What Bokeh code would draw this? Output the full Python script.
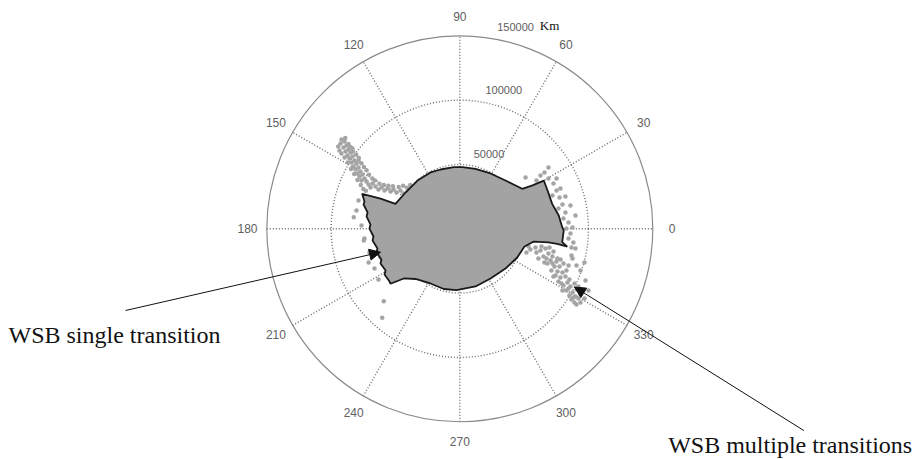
import numpy as np
from bokeh.plotting import figure
from bokeh.models import Range1d, Arrow, NormalHead
from bokeh.core.properties import value
from bokeh.embed import file_html
from bokeh.resources import INLINE

# ---------------- data (units: thousand km) ----------------
ring_radii = [50, 100]
outer_radius = 150
ring_labels = ["50000", "100000", "150000"]
spoke_angles = [0, 30, 60, 90, 120, 150]
angle_labels = ["0", "30", "60", "90", "120", "150", "180", "210", "240", "270", "300", "330"]
angle_label_deg = [0, 30, 60, 90, 120, 150, 180, 210, 240, 270, 300, 330]

# boundary of the filled region
region_x = [80.8, 79.6, 76.9, 71.8, 68.2, 65.3, 56.5, 48.5, 35.5, 23.9, 12.2, 2.1, -4.7, -15.0,
            -22.8, -32.9, -42.2, -50.0, -61.6, -75.9, -74.1, -74.8, -71.7, -72.5, -69.4, -70.2,
            -67.1, -67.8, -64.0, -64.7, -60.9, -61.6, -57.7, -58.5, -54.6, -53.9, -43.5, -34.4,
            -22.8, -12.4, -2.6, 12.2, 23.9, 35.5, 44.6, 50.3, 57.5, 68.9, 75.7, 83.5, 79.6]
region_y = [-1.3, 1.2, 10.3, 19.4, 29.8, 37.5, 33.7, 31.1, 37.5, 43.0, 46.5, 48.0, 47.9, 46.1,
            43.8, 37.5, 28.2, 19.4, 23.5, 27.2, 21.2, 18.9, 12.7, 9.6, 3.3, 0.2,
            -6.0, -9.1, -15.3, -18.4, -23.9, -27.0, -32.4, -35.5, -41.0, -42.7, -38.6, -39.0,
            -42.5, -46.8, -47.7, -44.8, -38.6, -30.9, -22.3, -13.8, -9.9, -10.6, -11.7, -13.8, -10.4]

# single-transition points
single_x = [-91.9, -89.6, -92.7, -88.0, -90.4, -86.5, -88.8, -84.9, -87.3, -83.4, -85.7, -81.8,
            -84.1, -80.3, -82.6, -78.7, -81.0, -77.2, -79.5, -75.6, -77.9, -74.0, -76.4, -72.5,
            -70.9, -67.8, -69.4, -65.5, -63.2, -60.8, -58.5, -56.2, -53.8, -51.5, -49.2, -46.1,
            -43.7, -40.6, -37.5, -35.2, -83.4, -93.5, -78.7,
            -82.4, -74.6, -61.6, -59.1, -60.3, -78.7, -70.9,
            -89.0, -86.5, -85.0, -83.0, -80.5, -78.5, -76.5, -74.5, -72.5, -70.5, -68.0, -66.0,
            -62.5, -59.0, -55.5, -52.0, -47.5, -44.0, -41.0, -38.5, -94.5, -92.0, -89.5, -87.0,
            -84.5, -82.0, -79.5, -77.0, -75.0, -73.0,
            -80.3, -76.4, -74.1, -70.2, -66.3, -63.2]
single_y = [69.4, 67.8, 66.3, 64.7, 63.2, 61.6, 60.1, 59.3, 57.0, 56.2, 54.6, 53.1,
            51.5, 50.7, 48.4, 47.6, 46.1, 44.5, 43.0, 42.2, 40.6, 39.1, 37.5, 36.8,
            34.4, 35.2, 32.1, 32.9, 30.5, 32.1, 29.8, 31.3, 29.0, 30.5, 28.2, 29.8,
            27.4, 29.0, 30.5, 31.3, 62.4, 60.8, 53.1,
            9.0, -9.1, -22.1, -56.3, -69.2, 22.0, -26.2,
            70.5, 66.0, 63.5, 60.0, 57.5, 55.0, 51.0, 48.0, 45.5, 42.0, 39.0, 37.5,
            35.0, 34.0, 33.5, 33.0, 32.5, 33.5, 32.0, 34.0, 64.0, 58.5, 55.5, 51.5,
            46.5, 42.5, 38.0, 34.0, 31.0, 29.5,
            14.2, 2.6, -7.5, -18.4, -30.9, -39.4]

# multiple-transition points
multi_x = [68.9, 51.1, 62.7, 68.9, 72.8, 75.2, 72.0, 77.5, 79.8, 76.7, 82.1, 80.6, 84.5, 82.9,
           86.0, 84.5, 88.3, 86.8, 58.8, 62.7, 66.6, 68.9, 65.0, 72.0, 70.5, 75.1, 68.1, 73.6,
           77.5, 75.9, 79.8, 71.2, 78.2, 82.1, 76.7, 83.7, 80.6, 86.0, 82.9, 87.6, 85.2, 89.9,
           86.8, 92.2, 89.1, 93.8, 79.8, 74.4, 90.7, 54.9, 51.8, 61.1, 65.8, 96.9, 100.0, 93.8,
           87.6, 84.5,
           53.4, 59.6, 63.5, 69.7, 72.8, 67.4, 78.3, 72.0, 80.6, 75.9, 82.9, 72.8, 85.2, 89.1,
           79.0, 84.4, 92.2, 88.3, 93.8, 90.7, 96.9, 97.7, 90.7, 86.8, 89.9, 87.6, 89.9, 86.0,
           82.1, 78.2, 75.2, 65.8, 59.6]
multi_y = [47.6, 39.9, 41.4, 39.1, 35.2, 29.8, 25.9, 24.3, 18.9, 15.8, 12.7, 8.0, 4.9, 0.2,
           -3.7, -7.5, -10.6, -14.5, -14.5, -16.9, -15.3, -19.2, -21.5, -21.5, -24.6, -25.4, -27.0, -29.3,
           -29.3, -33.2, -34.0, -32.4, -37.8, -37.1, -40.9, -41.7, -44.1, -44.8, -47.9, -49.5, -51.8, -52.6,
           -54.9, -54.2, -57.3, -51.0, -47.9, -36.3, -47.2, -16.1, -18.4, -23.1, -26.2, -26.2, -47.9, -32.4,
           -23.1, -28.5,
           -13.8, -18.4, -13.8, -14.5, -17.6, -23.1, -23.9, -27.0, -27.0, -23.1, -32.4, -37.1, -39.4, -42.5,
           -42.5, -46.3, -44.8, -53.4, -57.3, -58.9, -54.2, -40.2, -28.5, -20.7, -15.3, 1.0, 10.3, 18.1,
           25.1, 31.3, 39.1, 43.7, 37.5]

annotations = ["WSB single transition", "WSB multiple transitions"]
arrow_start_x = [-259.8, 267.4]
arrow_start_y = [-63.5, -156.8]
arrow_tip_x = [-61.6, 89.1]
arrow_tip_y = [-18.2, -45.2]
annot_x = [-186.0, 351.6]
annot_y = [-82.9, -168.4]

# ---------------- figure ----------------
p = figure(width=919, height=459, output_backend="svg", toolbar_location=None,
           x_range=Range1d(-356.97, 357.28), y_range=Range1d(-179.30, 177.44),
           x_axis_type=None, y_axis_type=None, min_border=0)
p.grid.visible = False
p.outline_line_color = None
p.background_fill_color = "white"

grid_col = "#6a6a6a"
# dotted rings
p.circle(x=[0] * len(ring_radii), y=[0] * len(ring_radii), radius=ring_radii,
         fill_color=None, line_color=grid_col, line_dash="1 2", line_width=1.4)
# spokes
a = np.radians(spoke_angles)
p.segment(x0=-outer_radius * np.cos(a), y0=-outer_radius * np.sin(a),
          x1=outer_radius * np.cos(a), y1=outer_radius * np.sin(a),
          line_color=grid_col, line_dash="1 2", line_width=1.4)
# outer circle
p.circle(x=[0], y=[0], radius=[outer_radius], fill_color=None, line_color="#8a8a8a", line_width=1.2)

# scatter points
p.scatter(single_x, single_y, size=4.5, fill_color="#a4a4a4", line_color=None)
p.scatter(multi_x, multi_y, size=4.5, fill_color="#a4a4a4", line_color=None)

# filled region
p.patch(region_x, region_y, fill_color="#a3a3a3", line_color="#1a1a1a", line_width=1.8)

# angle labels
la = np.radians(angle_label_deg)
p.text(x=165 * np.cos(la), y=165 * np.sin(la), text=angle_labels,
       text_font=value("Liberation Sans"), text_font_size="12px", text_color="#606060",
       text_align="center", text_baseline="middle")

# ring labels
rl_r = np.array(ring_radii + [outer_radius]) + 9.5
rl_a = np.radians(79.5)
p.text(x=rl_r * np.cos(rl_a), y=rl_r * np.sin(rl_a), text=ring_labels,
       text_font=value("Liberation Sans"), text_font_size="11px", text_color="#606060",
       text_align="left", text_baseline="middle")
p.text(x=[62.2], y=[158.0], text=["Km"], text_font=value("Liberation Serif"),
       text_font_size="13px", text_color="#111111", text_align="left", text_baseline="alphabetic")

# annotations
p.text(x=annot_x, y=annot_y, text=annotations, text_font=value("Liberation Serif"),
       text_font_size="24px", text_color="#111111", text_align="right", text_baseline="alphabetic")
for i in range(2):
    p.add_layout(Arrow(end=NormalHead(size=11, fill_color="#111111", line_color="#111111"),
                       x_start=arrow_start_x[i], y_start=arrow_start_y[i],
                       x_end=arrow_tip_x[i], y_end=arrow_tip_y[i],
                       line_color="#111111", line_width=1))

open("out.html", "w").write(file_html(p, INLINE))
